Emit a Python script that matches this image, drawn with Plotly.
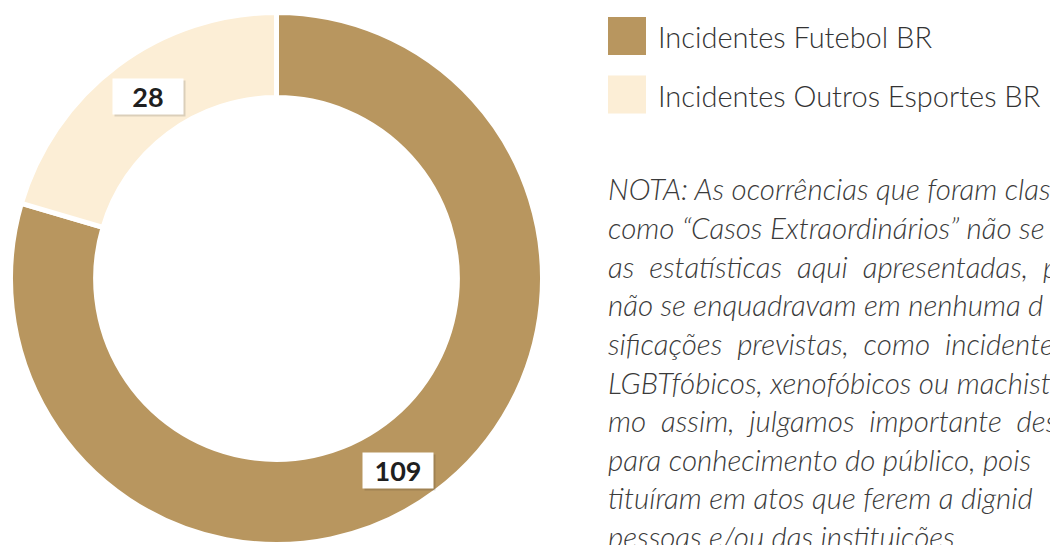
import math
import plotly.graph_objects as go

# data
labels = ["Incidentes Futebol BR", "Incidentes Outros Esportes BR"]
values = [109, 28]
colors = ["#B8965F", "#FCEED6"]

note_lines = [
    "NOTA: As ocorrências que foram clas",
    "como “Casos Extraordinários” não se",
    "as  estatísticas  aqui  apresentadas,  p",
    "não se enquadravam em nenhuma d",
    "sificações  previstas,  como  incidentes",
    "LGBTfóbicos, xenofóbicos ou machist",
    "mo  assim,  julgamos  importante  des",
    "para conhecimento do público, pois",
    "tituíram em atos que ferem a dignid",
    "pessoas e/ou das instituições",
]

W, H = 1050, 545
cx, cy, r_out = 276.5, 278.5, 266  # px, pie center / radius
hole = 0.68

fig = go.Figure()
fig.add_trace(go.Pie(
    labels=labels,
    values=values,
    hole=hole,
    sort=False,
    direction="clockwise",
    rotation=0,
    marker=dict(colors=colors, line=dict(color="white", width=5)),
    textinfo="none",
    hoverinfo="label+value",
    showlegend=False,
    domain=dict(x=[max(0, (cx - r_out) / W), min(1, (cx + r_out) / W)],
                y=[max(0, 1 - (cy + r_out) / H), min(1, 1 - (cy - r_out) / H)]),
))

annotations = []
shapes = []

# value labels near slice mid-angles
total = sum(values)
r_lab = r_out * (1 + hole) / 2 + 2
cum = 0
for v in values:
    mid = (cum + v / 2) / total * 2 * math.pi + math.radians(3)
    cum += v
    px = cx + r_lab * math.sin(mid) - 3.5
    py = cy - r_lab * math.cos(mid) + 5
    common = dict(xref="paper", yref="paper", x=px / W, y=1 - py / H,
                  xanchor="center", yanchor="middle", showarrow=False,
                  width=70, height=35, borderpad=0)
    annotations.append(dict(common, text="", bgcolor="rgba(0,0,0,0.13)",
                            xshift=2, yshift=-2))
    annotations.append(dict(common, text="<b>%d</b>" % v, bgcolor="white",
                            font=dict(family="Lato", size=27, color="#1f1f1f")))

# legend drawn by hand (large swatches)
for i, (lab, col) in enumerate(zip(labels, colors)):
    yc = 36 + i * 58.5
    shapes.append(dict(type="rect", xref="paper", yref="paper",
                       x0=608 / W, x1=646 / W,
                       y0=1 - (yc + 19) / H, y1=1 - (yc - 19) / H,
                       fillcolor=col, line=dict(width=0)))
    annotations.append(dict(xref="paper", yref="paper", x=656 / W, y=1 - (yc + 1) / H,
                            xanchor="left", yanchor="middle", showarrow=False,
                            text=lab,
                            font=dict(family="Lato", size=29, weight=300, color="#333333")))

# note text
for i, line in enumerate(note_lines):
    yc = 189 + i * 38.6
    annotations.append(dict(xref="paper", yref="paper", x=606 / W, y=1 - yc / H,
                            xanchor="left", yanchor="middle", showarrow=False,
                            text=line, align="left",
                            font=dict(family="Lato", size=29.5, weight=300,
                                      style="italic", color="#3a3a3a")))

fig.update_layout(
    width=W, height=H,
    margin=dict(l=0, r=0, t=0, b=0),
    paper_bgcolor="white",
    plot_bgcolor="white",
    annotations=annotations,
    shapes=shapes,
)

fig.write_html("out.html", config={"displayModeBar": False},
               post_script="document.body.style.margin='0';")
